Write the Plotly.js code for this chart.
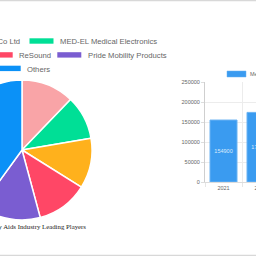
<!DOCTYPE html>
<html>
<head>
<meta charset="utf-8">
<script src="https://cdn.plot.ly/plotly-3.0.1.min.js"></script>
<style>
html,body{margin:0;padding:0;width:256px;height:256px;overflow:hidden;background:#fff;}
#wrap{position:absolute;left:0;top:0;width:256px;height:256px;overflow:hidden;}
#chart{position:absolute;left:-200px;top:0;width:620px;height:256px;}
</style>
</head>
<body>
<div id="wrap"><div id="chart"></div></div>
<script>
// ---- data ----
const playerLabels = ["Jiangsu Yuyue Medical Equipment & Supply Co Ltd", "MED-EL Medical Electronics", "Invacare Corporation", "ReSound", "Pride Mobility Products", "Others"];
const playerShares = [12.2, 10.1, 11.6, 11.9, 14.2, 40.0];
const playerColors = ["#f9a4a7", "#00df96", "#ffb11c", "#ff4766", "#7a5dd1", "#0b91f7"];
const years = ["2021", "2022"];
const marketValues = [154900, 174000];
const seriesName = "Mechanical Aids Market";
const chartTitle = "Disability Aids Industry Leading Players";

// ---- layout helpers (page pixels -> paper) ----
const L = 200, W = 620, H = 256;
const px = x => (x + L) / W;
const py = y => 1 - y / H;

const pie = {
  type: "pie",
  labels: playerLabels,
  values: playerShares,
  sort: false,
  direction: "clockwise",
  rotation: 0,
  textinfo: "none",
  hoverinfo: "label+percent",
  marker: {colors: playerColors, line: {color: "#ffffff", width: 1.5}},
  domain: {x: [px(22 - 70), px(22 + 70)], y: [py(220), py(80)]},
  showlegend: false
};

const bar = {
  type: "bar",
  x: years,
  y: marketValues,
  name: seriesName,
  text: marketValues.map(String),
  textposition: "inside",
  insidetextanchor: "middle",
  textangle: 0,
  constraintext: "none",
  textfont: {size: 5.5, color: "#dcebfb", family: "Liberation Sans, Arial, sans-serif"},
  marker: {color: "#3a9bf0", line: {color: "#6ab3f3", width: 1}},
  xaxis: "x", yaxis: "y",
  showlegend: false
};

const annotations = [];
const shapes = [];
// pie legend (custom swatches, Chart.js-like)
const legendItems = [
  {i: 0, box: null, tx: 22, anchor: "right", ty: 41},
  {i: 1, box: [29.5, 53.5, 38.3, 43.7], tx: 58, anchor: "left", ty: 41},
  {i: 2, box: [-45, -21, 52.2, 57.6], tx: -50, anchor: "right", ty: 55},
  {i: 3, box: [-11.5, 12.7, 52.2, 57.6], tx: 17, anchor: "left", ty: 55},
  {i: 4, box: [57.3, 81.3, 52.2, 57.6], tx: 86, anchor: "left", ty: 55},
  {i: 5, box: [-3.5, 20.7, 65.7, 71.1], tx: 25.3, anchor: "left", ty: 69}
];
legendItems.forEach(it => {
  if (it.box) {
    shapes.push({type: "rect", xref: "paper", yref: "paper",
      x0: px(it.box[0]), x1: px(it.box[1]), y0: py(it.box[3]), y1: py(it.box[2]),
      fillcolor: playerColors[it.i], line: {width: 0}});
  }
  annotations.push({xref: "paper", yref: "paper", x: px(it.tx), y: py(it.ty),
    xanchor: it.anchor, yanchor: "middle", showarrow: false, text: playerLabels[it.i],
    font: {size: 7.7, color: "#666666", family: "Liberation Sans, Arial, sans-serif"}});
});
// bar legend
shapes.push({type: "rect", xref: "paper", yref: "paper",
  x0: px(227), x1: px(246), y0: py(77), y1: py(71),
  fillcolor: "#3a9bf0", line: {color: "#6ab3f3", width: 0.5}});
annotations.push({xref: "paper", yref: "paper", x: px(248), y: py(74), xanchor: "left", yanchor: "middle",
  showarrow: false, text: seriesName, font: {size: 5.5, color: "#666666", family: "Liberation Sans, Arial, sans-serif"}});
// pie title
annotations.push({xref: "paper", yref: "paper", x: px(87.5), y: py(226.8), xanchor: "right", yanchor: "middle",
  showarrow: false, text: chartTitle, font: {size: 6.8, color: "#222222", family: "Liberation Serif, Times New Roman, serif"}});
// card borders
shapes.push({type: "line", xref: "paper", yref: "paper", x0: 0, x1: 1, y0: py(0.5), y1: py(0.5), line: {color: "#d8d8d8", width: 1.5}});
shapes.push({type: "line", xref: "paper", yref: "paper", x0: 0, x1: 1, y0: py(255.5), y1: py(255.5), line: {color: "#d8d8d8", width: 1.5}});

const layout = {
  width: W, height: H,
  margin: {l: 0, r: 0, t: 0, b: 0, pad: 0},
  paper_bgcolor: "#ffffff", plot_bgcolor: "#ffffff",
  showlegend: false,
  bargap: 0.27,
  xaxis: {
    domain: [px(205), px(205 + 37 * years.length)],
    type: "category",
    tickson: "boundaries",
    ticks: "outside", ticklen: 4, tickcolor: "#e6e6e6",
    showgrid: true, gridcolor: "#ececec", gridwidth: 1,
    showline: true, linecolor: "#dcdcdc", linewidth: 1,
    tickfont: {size: 5.5, color: "#666666", family: "Liberation Sans, Arial, sans-serif"},
    fixedrange: true
  },
  yaxis: {
    domain: [py(182), py(82)],
    range: [0, 250000],
    dtick: 50000, tick0: 0,
    tickformat: "d",
    ticks: "outside", ticklen: 3, tickcolor: "#dddddd",
    showgrid: true, gridcolor: "#ececec", gridwidth: 1,
    zeroline: false,
    showline: true, linecolor: "#cfcfcf", linewidth: 1,
    tickfont: {size: 5.5, color: "#666666", family: "Liberation Sans, Arial, sans-serif"},
    fixedrange: true
  },
  shapes: shapes,
  annotations: annotations
};

Plotly.newPlot("chart", [pie, bar], layout, {staticPlot: true, displayModeBar: false});
</script>
</body>
</html>
